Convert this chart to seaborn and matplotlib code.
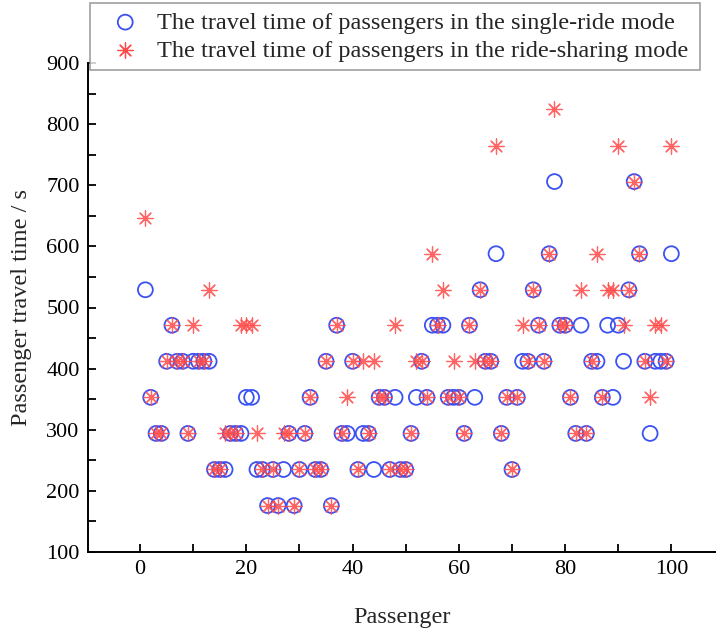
import numpy as np
import pandas as pd
import matplotlib
matplotlib.use("Agg")
import matplotlib.pyplot as plt
import seaborn as sns
from matplotlib.ticker import MultipleLocator

# ---------------- data ----------------
passenger = list(range(1, 101))

single_ride = [
    529, 353, 294, 294, 412, 471, 412, 412, 294, 412,
    412, 412, 412, 235, 235, 235, 294, 294, 294, 353,
    353, 235, 235, 176, 235, 176, 235, 294, 176, 235,
    294, 353, 235, 235, 412, 176, 471, 294, 294, 412,
    235, 294, 294, 235, 353, 353, 235, 353, 235, 235,
    294, 353, 412, 353, 471, 471, 471, 353, 353, 353,
    294, 471, 353, 529, 412, 412, 588, 294, 353, 235,
    353, 412, 412, 529, 471, 412, 588, 706, 471, 471,
    353, 294, 471, 294, 412, 412, 353, 471, 353, 471,
    412, 529, 706, 588, 412, 294, 412, 412, 412, 588,
]

ride_sharing = [
    647, 353, 294, 294, 412, 471, 412, 412, 294, 471,
    412, 412, 529, 235, 235, 294, 294, 294, 471, 471,
    471, 294, 235, 176, 235, 176, 294, 294, 176, 235,
    294, 353, 235, 235, 412, 176, 471, 294, 353, 412,
    235, 412, 294, 412, 353, 353, 235, 471, 235, 235,
    294, 412, 412, 353, 588, 471, 529, 353, 412, 353,
    294, 471, 412, 529, 412, 412, 765, 294, 353, 235,
    353, 471, 412, 529, 471, 412, 588, 824, 471, 471,
    353, 294, 529, 294, 412, 588, 353, 529, 529, 765,
    471, 529, 706, 588, 412, 353, 471, 471, 412, 765,
]

legend_labels = [
    "The travel time of passengers in the single-ride mode",
    "The travel time of passengers in the ride-sharing mode",
]
x_label = "Passenger"
y_label = "Passenger travel time / s"

df_single = pd.DataFrame({"Passenger": passenger, "Time": single_ride})
df_share = pd.DataFrame({"Passenger": passenger, "Time": ride_sharing})

# ---------------- style ----------------
sns.set_style("ticks")
plt.rcParams["font.family"] = ["Liberation Serif", "DejaVu Serif"]

W, H = 716, 631
fig = plt.figure(figsize=(W / 100, H / 100), dpi=100)
ax = fig.add_axes([88 / W, 1 - 552 / H, (W - 88) / W, (552 - 63) / H])

blue = "#3b52f3"
red = "#ff4a4a"

sns.scatterplot(data=df_single, x="Passenger", y="Time", ax=ax, marker="o",
                s=115, facecolor="none", edgecolor=blue, linewidth=1.3,
                label=legend_labels[0], zorder=2)
sns.scatterplot(data=df_share, x="Passenger", y="Time", ax=ax, marker=(8, 2, 0),
                s=120, facecolor=red, edgecolor=red, linewidth=0.9, alpha=0.85,
                label=legend_labels[1], zorder=3)

ax.set_xlim(-9.8, 108.4)
ax.set_ylim(100, 900)
ax.xaxis.set_major_locator(MultipleLocator(20))
ax.xaxis.set_minor_locator(MultipleLocator(10))
ax.yaxis.set_major_locator(MultipleLocator(100))
ax.yaxis.set_minor_locator(MultipleLocator(50))

ax.tick_params(axis="both", which="both", direction="in", length=6, width=1.3,
               colors="black", labelsize=16, pad=6)
for side in ["top", "right"]:
    ax.spines[side].set_visible(False)
for side in ["left", "bottom"]:
    ax.spines[side].set_linewidth(1.4)
    ax.spines[side].set_color("black")

ax.set_xlabel(x_label, fontsize=17.5, labelpad=20)
ax.set_ylabel(y_label, fontsize=17.5, labelpad=10)

leg = ax.legend(loc="upper left",
                bbox_to_anchor=(90 / W, 1 - 70 / H, 610 / W, 67 / H),
                bbox_transform=fig.transFigure, mode="expand",
                fontsize=17.5, frameon=True,
                fancybox=False, borderpad=0.35, handlelength=2.2,
                handletextpad=0.2, labelspacing=0.25, borderaxespad=0)
leg.get_frame().set_edgecolor("#888888")
leg.get_frame().set_linewidth(1.2)
for h in leg.legend_handles:
    h.set_alpha(1)

fig.savefig("out.png", dpi=100)
